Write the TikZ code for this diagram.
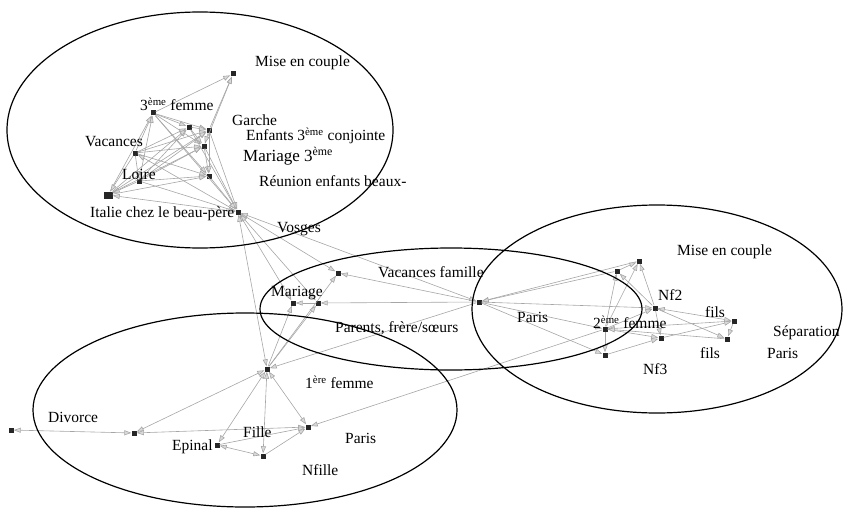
\documentclass[tikz,border=0pt]{standalone}
\usepackage{fontspec}
\setmainfont{Liberation Serif}
\usetikzlibrary{arrows.meta}
\tikzset{
  sq/.style={rectangle, fill=black!85, minimum size=5pt, inner sep=0pt},
  bigsq/.style={rectangle, fill=black!85, minimum width=9pt, minimum height=7pt, inner sep=0pt},
  lnk/.style={draw=black!35, line width=0.6pt, -{Triangle[length=7pt,width=5pt,fill=black!15]}},
  blnk/.style={draw=black!35, line width=0.6pt, {Triangle[length=7pt,width=5pt,fill=black!15]}-{Triangle[length=7pt,width=5pt,fill=black!15]}},
  lbl/.style={anchor=west, font=\fontsize{15.5}{17}\selectfont, inner sep=0pt},
  ell/.style={draw=black, line width=1.2pt}
}
\begin{document}
\begin{tikzpicture}[x=1pt,y=-1pt]
\useasboundingbox (0,0) rectangle (845,508);
% ---- nodes ----
% top
\node[sq] (t1) at (233,74) {};
\node[sq] (t2) at (153,113) {};
\node[sq] (t3) at (189,127) {};
\node[sq] (t4) at (209,130) {};
\node[sq] (t5) at (204,146) {};
\node[sq] (t6) at (135,153) {};
\node[sq] (t7) at (139,181) {};
\node[sq] (t8) at (209,176) {};
\node[bigsq] (t9) at (108,195) {};
\node[sq] (t10) at (238,212) {};
% middle
\node[sq] (m1) at (338,273) {};
\node[sq] (m2) at (293,303) {};
\node[sq] (m3) at (318,303) {};
\node[sq] (m4) at (479,302) {};
% right
\node[sq] (r1) at (639,261) {};
\node[sq] (r2) at (617,271) {};
\node[sq] (r3) at (655,308) {};
\node[sq] (r4) at (605,329) {};
\node[sq] (r5) at (661,338) {};
\node[sq] (r6) at (605,355) {};
\node[sq] (r7) at (734,321) {};
\node[sq] (r8) at (727,339) {};
% bottom
\node[sq] (b1) at (267,369) {};
\node[sq] (b2) at (11,430) {};
\node[sq] (b3) at (134,433) {};
\node[sq] (b4) at (308,427) {};
\node[sq] (b5) at (217,445) {};
\node[sq] (b6) at (263,456) {};
% ---- edges: top cluster ----
\draw[lnk] (t2) -- (t1);
\draw[lnk] (t4) -- (t1);
\draw[lnk] (t5) -- (t1);
\draw[lnk] (t6) -- (t2);
\draw[lnk] (t7) -- (t2);
\draw[lnk] (t9) -- (t2);
\draw[lnk] (t2) -- (t3);
\draw[lnk] (t2) -- (t4);
\draw[lnk] (t2) -- (t5);
\draw[lnk] (t2) -- (t8);
\draw[lnk] (t2) -- (t10);
\draw[lnk] (t6) -- (t3);
\draw[lnk] (t6) -- (t4);
\draw[lnk] (t6) -- (t5);
\draw[lnk] (t6) -- (t8);
\draw[lnk] (t6) -- (t7);
\draw[lnk] (t6) -- (t9);
\draw[lnk] (t7) -- (t3);
\draw[lnk] (t7) -- (t4);
\draw[lnk] (t7) -- (t5);
\draw[lnk] (t7) -- (t8);
\draw[lnk] (t7) -- (t9);
\draw[lnk] (t7) -- (t10);
\draw[lnk] (t9) -- (t3);
\draw[lnk] (t9) -- (t4);
\draw[lnk] (t9) -- (t5);
\draw[lnk] (t9) -- (t8);
\draw[lnk] (t10) -- (t9);
\draw[lnk] (t3) -- (t4);
\draw[lnk] (t3) -- (t5);
\draw[lnk] (t4) -- (t5);
\draw[lnk] (t5) -- (t8);
\draw[lnk] (t4) -- (t8);
\draw[lnk] (t3) -- (t10);
\draw[lnk] (t4) -- (t10);
\draw[lnk] (t5) -- (t10);
\draw[lnk] (t8) -- (t10);
\draw[lnk] (t10) -- (t6);
% ---- hub to middle / bottom ----
\draw[blnk] (t10) -- (m1);
\draw[blnk] (t10) -- (m2);
\draw[blnk] (t10) -- (m3);
\draw[blnk] (t10) -- (m4);
\draw[blnk] (t10) -- (b1);
% ---- middle ----
\draw[lnk] (m4) -- (m1);
\draw[lnk] (m4) -- (m3);
\draw[lnk] (m3) -- (m2);
\draw[lnk] (b1) -- (m1);
\draw[lnk] (b1) -- (m2);
\draw[lnk] (b1) -- (m3);
\draw[lnk] (m4) -- (b1);
% ---- right ----
\draw[lnk] (r1) -- (m4);
\draw[lnk] (r2) -- (m4);
\draw[lnk] (m4) -- (r3);
\draw[lnk] (m4) -- (r4);
\draw[lnk] (m4) -- (r6);
\draw[lnk] (r4) -- (r2);
\draw[lnk] (r4) -- (r1);
\draw[lnk] (r2) -- (r1);
\draw[lnk] (r3) -- (r1);
\draw[lnk] (r3) -- (r2);
\draw[lnk] (r4) -- (r3);
\draw[lnk] (r4) -- (r5);
\draw[lnk] (r4) -- (r6);
\draw[lnk] (r6) -- (r5);
\draw[lnk] (r3) -- (r5);
\draw[blnk] (r3) -- (r7);
\draw[lnk] (r3) -- (r8);
\draw[lnk] (r7) -- (r8);
\draw[lnk] (r7) -- (r4);
\draw[lnk] (r8) -- (r4);
\draw[lnk] (r5) -- (r7);
\draw[lnk] (r4) -- (b4);
% ---- bottom ----
\draw[blnk] (b1) -- (b3);
\draw[blnk] (b1) -- (b5);
\draw[blnk] (b1) -- (b6);
\draw[blnk] (b1) -- (b4);
\draw[blnk] (b3) -- (b4);
\draw[blnk] (b2) -- (b3);
\draw[lnk] (b5) -- (b4);
\draw[lnk] (b6) -- (b4);
\draw[blnk] (b5) -- (b6);
% ---- ellipses ----
\draw[ell] (200,130) ellipse [x radius=193, y radius=118];
\draw[ell] (451,309) ellipse [x radius=191, y radius=61];
\draw[ell] (657,309) ellipse [x radius=185, y radius=104];
\draw[ell] (245,410) ellipse [x radius=212, y radius=97];
% ---- labels ----
\node[lbl] (l1) at (255,63) {Mise en couple};
\node[lbl] (l2) at (140,104) {3\textsuperscript{ème} femme};
\node[lbl] (l3) at (232,120) {Garche};
\node[lbl] (l4) at (246,136) {Enfants 3\textsuperscript{ème} conjointe};
\node[lbl, font=\fontsize{17}{19}\selectfont] (l5) at (243,156) {Mariage 3\textsuperscript{ème}};
\node[lbl] (l6) at (259,181) {Réunion enfants beaux-};
\node[lbl] (l7) at (85,142) {Vacances};
\node[lbl] (l8) at (122,174) {Loire};
\node[lbl] (l9) at (90,214) {Italie chez le beau-père};
\node[lbl] (l10) at (277,229) {Vosges};
\node[lbl] (l11) at (378,272) {Vacances famille};
\node[lbl] (l12) at (271,293) {Mariage};
\node[lbl] (l13) at (335,328) {Parents, frère/sœurs};
\node[lbl] (l14) at (517,317) {Paris};
\node[lbl] (l15) at (677,252) {Mise en couple};
\node[lbl] (l16) at (658,295) {Nf2};
\node[lbl] (l17) at (705,312) {fils};
\node[lbl] (l18) at (593,322) {2\textsuperscript{ème} femme};
\node[lbl] (l19) at (773,333) {Séparation};
\node[lbl] (l20) at (767,353) {Paris};
\node[lbl] (l21) at (700,353) {fils};
\node[lbl] (l22) at (643,369) {Nf3};
\node[lbl] (l23) at (305,382) {1\textsuperscript{ère} femme};
\node[lbl] (l24) at (48,417) {Divorce};
\node[lbl] (l25) at (243,432) {Fille};
\node[lbl] (l26) at (345,438) {Paris};
\node[lbl] (l27) at (172,447) {Epinal};
\node[lbl] (l28) at (302,470) {Nfille};
\end{tikzpicture}
\end{document}
